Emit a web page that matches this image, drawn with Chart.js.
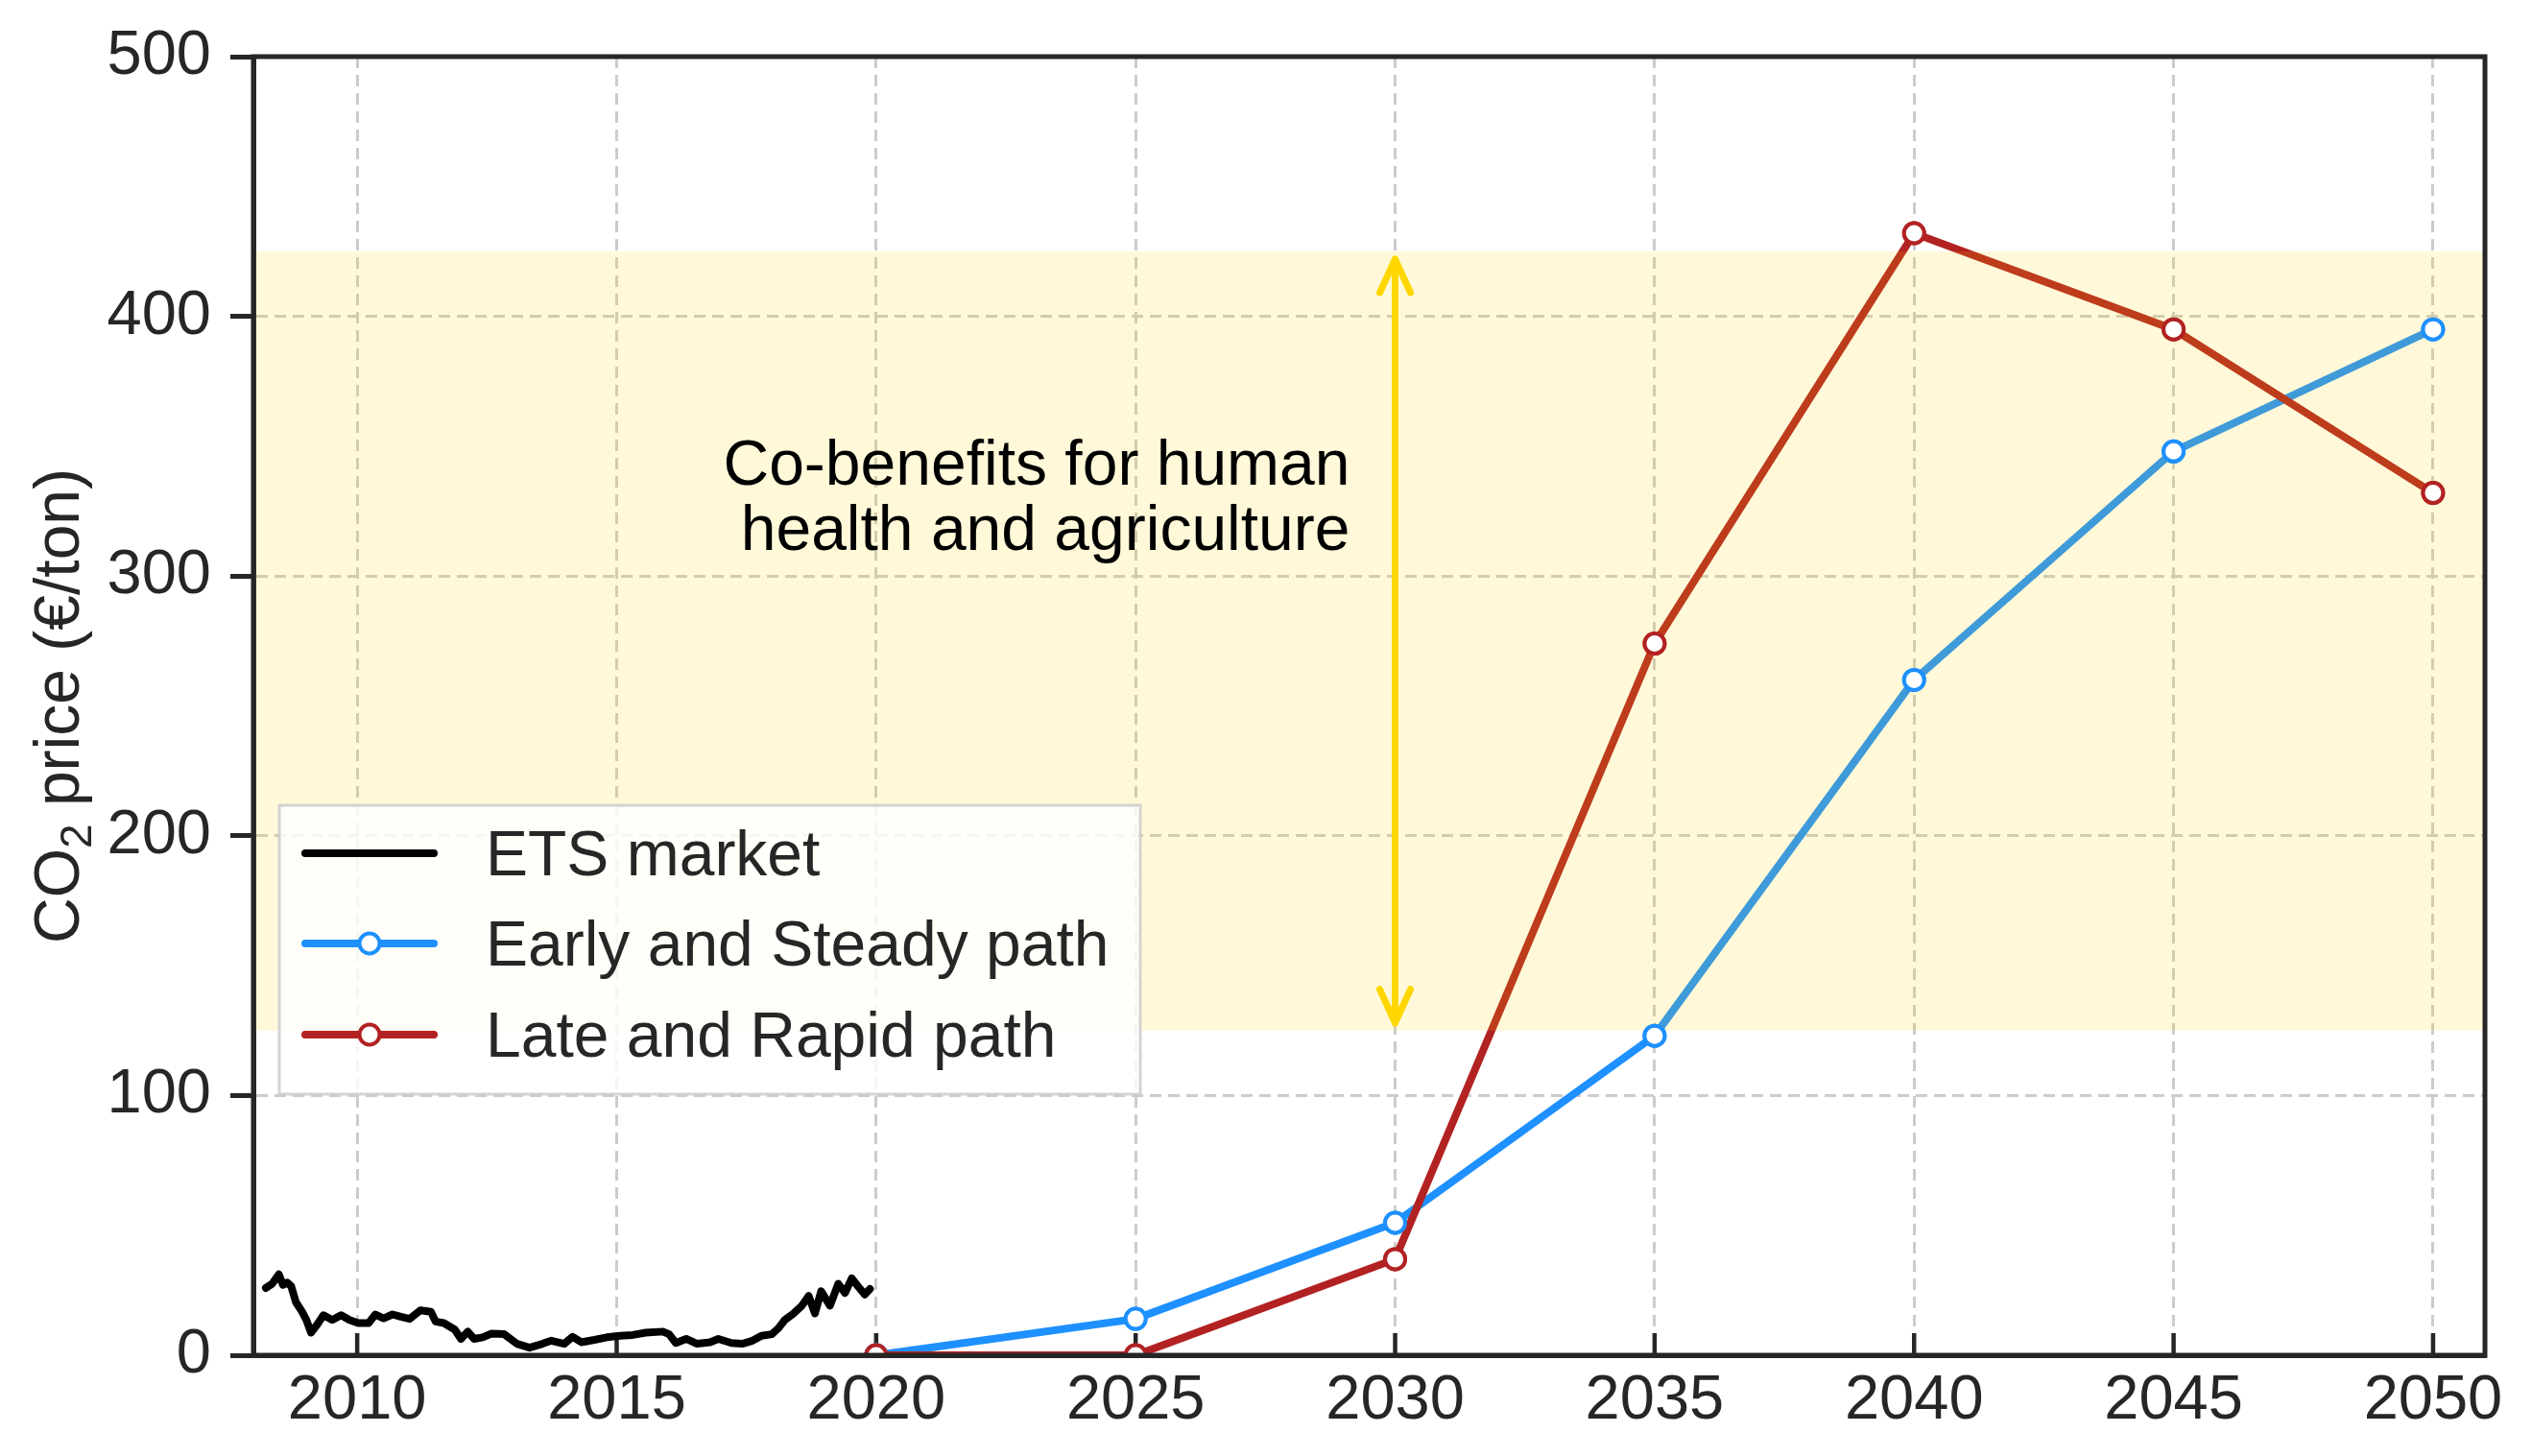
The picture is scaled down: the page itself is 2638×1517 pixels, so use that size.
<!DOCTYPE html>
<html><head><meta charset="utf-8">
<script src="https://cdn.jsdelivr.net/npm/chart.js@4/dist/chart.umd.min.js"></script>
<style>html,body{margin:0;padding:0;background:#fff;} canvas{display:block;}</style>
</head><body>
<canvas id="c" width="2638" height="1517"></canvas>
<script>
// ---------- data ----------
const pathYears = [2020, 2025, 2030, 2035, 2040, 2045, 2050];
const earlySteady = [0, 14, 51, 123, 260, 348, 395];
const lateRapid = [0, 0, 37, 274, 432, 395, 332];
const etsYears = [2008.24, 2008.36, 2008.49, 2008.57, 2008.65, 2008.73, 2008.82, 2008.94, 2009.02, 2009.11,
  2009.23, 2009.35, 2009.52, 2009.69, 2009.85, 2010.02, 2010.22, 2010.35, 2010.51, 2010.68,
  2010.84, 2011.01, 2011.22, 2011.42, 2011.51, 2011.67, 2011.88, 2012.0, 2012.13, 2012.25,
  2012.42, 2012.58, 2012.83, 2013.08, 2013.32, 2013.57, 2013.74, 2013.99, 2014.15, 2014.32,
  2014.57, 2014.81, 2015.06, 2015.31, 2015.56, 2015.89, 2016.01, 2016.14, 2016.34, 2016.55,
  2016.80, 2016.96, 2017.21, 2017.42, 2017.62, 2017.79, 2017.99, 2018.12, 2018.24, 2018.41,
  2018.57, 2018.70, 2018.82, 2018.94, 2019.11, 2019.27, 2019.40, 2019.53, 2019.65, 2019.78, 2019.88];
const etsPrices = [25.9, 27.5, 31.1, 27.1, 28.0, 26.5, 20.4, 16.7, 13.6, 8.7,
  11.8, 15.4, 13.6, 15.4, 13.6, 12.4, 12.4, 15.7, 14.2, 15.7,
  14.8, 14.0, 17.3, 16.7, 13.0, 12.4, 9.9, 6.3, 9.1, 6.3,
  6.9, 8.3, 8.1, 4.4, 2.9, 4.4, 5.6, 4.4, 7.1, 5.0,
  5.9, 6.9, 7.5, 7.8, 8.7, 9.1, 8.1, 4.7, 6.3, 4.4,
  5.0, 6.3, 4.7, 4.4, 5.6, 7.5, 8.1, 10.5, 13.6, 16.1,
  19.1, 22.8, 16.1, 24.6, 19.1, 27.5, 24.0, 29.6, 26.5, 23.4, 25.5];
const xTickLabels = [2010, 2015, 2020, 2025, 2030, 2035, 2040, 2045, 2050];
const yTickLabels = [0, 100, 200, 300, 400, 500];
const seriesNames = ['ETS market', 'Early and Steady path', 'Late and Rapid path'];
const coBenefitRange = [125, 425];
const annotationLines = ['Co-benefits for human', 'health and agriculture'];
const annotationYear = 2030;
const yTitleParts = ['CO', '2', ' price (€/ton)'];

// ---------- styles ----------
const FONT = "'Liberation Sans', Arial, Helvetica, sans-serif";
const INK = '#262626';
const BLUE = '#1E90FF';
const RED = '#B22222';
const GOLD = '#FFD700';
const GRID = '#cccccc';
const DASH = [12, 7];
const LW = 8;

const decor = {
  id: 'decor',
  beforeDatasetsDraw(chart) {
    const {ctx, chartArea: a, scales: {x}} = chart;
    ctx.save();
    ctx.strokeStyle = INK; ctx.lineWidth = 4.5;
    x.ticks.forEach(t => {
      const px = x.getPixelForValue(t.value);
      ctx.beginPath(); ctx.moveTo(px, a.bottom); ctx.lineTo(px, a.bottom - 23); ctx.stroke();
    });
    ctx.restore();
  },
  afterDatasetsDraw(chart) {
    const {ctx, chartArea: a, scales: {x, y}} = chart;
    const yTop = y.getPixelForValue(coBenefitRange[1]);
    const yBot = y.getPixelForValue(coBenefitRange[0]);
    ctx.save();
    ctx.fillStyle = 'rgba(255,215,0,0.15)';
    ctx.fillRect(a.left, yTop, a.right - a.left, yBot - yTop);
    ctx.restore();
    ctx.save();
    ctx.beginPath(); ctx.rect(a.left, a.top, a.right - a.left, a.bottom - a.top); ctx.clip();
    [1, 2].forEach(i => chart.getDatasetMeta(i).data.forEach(p => p.draw(ctx, a)));
    ctx.restore();
    const ax = x.getPixelForValue(annotationYear);
    const yA = yTop + 8, yB = yBot - 8;
    ctx.save();
    ctx.strokeStyle = GOLD; ctx.lineWidth = 7; ctx.lineCap = 'round'; ctx.lineJoin = 'round';
    ctx.beginPath(); ctx.moveTo(ax, yA); ctx.lineTo(ax, yB); ctx.stroke();
    ctx.beginPath(); ctx.moveTo(ax - 16, yA + 35); ctx.lineTo(ax, yA); ctx.lineTo(ax + 16, yA + 35); ctx.stroke();
    ctx.beginPath(); ctx.moveTo(ax - 16, yB - 35); ctx.lineTo(ax, yB); ctx.lineTo(ax + 16, yB - 35); ctx.stroke();
    ctx.restore();
    ctx.save();
    ctx.fillStyle = '#000';
    ctx.font = `66px ${FONT}`;
    ctx.textAlign = 'right'; ctx.textBaseline = 'alphabetic';
    const tx = x.getPixelForValue(2029.13);
    const ty = y.getPixelForValue(335.3);
    annotationLines.forEach((s, i) => ctx.fillText(s, tx, ty + i * 68));
    ctx.restore();
  },
  afterDraw(chart) {
    const {ctx, chartArea: a} = chart;
    ctx.save();
    ctx.strokeStyle = INK; ctx.lineWidth = 5;
    ctx.strokeRect(a.left, a.top, a.right - a.left, a.bottom - a.top);
    ctx.restore();
    // y title
    ctx.save();
    ctx.translate(82, (a.top + a.bottom) / 2);
    ctx.rotate(-Math.PI / 2);
    ctx.fillStyle = INK; ctx.textBaseline = 'alphabetic'; ctx.textAlign = 'left';
    const big = `66px ${FONT}`, small = `46px ${FONT}`;
    ctx.font = big; const w0 = ctx.measureText(yTitleParts[0]).width;
    const w2 = ctx.measureText(yTitleParts[2]).width;
    ctx.font = small; const w1 = ctx.measureText(yTitleParts[1]).width;
    let cx = -(w0 + w1 + w2) / 2;
    ctx.font = big; ctx.fillText(yTitleParts[0], cx, 0); cx += w0;
    ctx.font = small; ctx.fillText(yTitleParts[1], cx, 13); cx += w1;
    ctx.font = big; ctx.fillText(yTitleParts[2], cx, 0);
    ctx.restore();
    // legend
    const L = 291, T = 839, R = 1188, B = 1140;
    ctx.save();
    ctx.fillStyle = 'rgba(255,255,255,0.8)';
    ctx.fillRect(L, T, R - L, B - T);
    ctx.strokeStyle = 'rgba(204,204,204,0.85)'; ctx.lineWidth = 3;
    ctx.strokeRect(L, T, R - L, B - T);
    const colors = ['#000', BLUE, RED];
    const rows = [889, 983, 1078];
    ctx.font = `66px ${FONT}`; ctx.textBaseline = 'alphabetic'; ctx.textAlign = 'left';
    seriesNames.forEach((name, i) => {
      const cy = rows[i];
      ctx.strokeStyle = colors[i]; ctx.lineWidth = LW; ctx.lineCap = 'round';
      ctx.beginPath(); ctx.moveTo(318, cy); ctx.lineTo(452, cy); ctx.stroke();
      if (i > 0) {
        ctx.beginPath(); ctx.arc(385, cy, 10.5, 0, Math.PI * 2);
        ctx.fillStyle = '#fff'; ctx.fill();
        ctx.lineWidth = 4; ctx.stroke();
      }
      ctx.fillStyle = INK;
      ctx.fillText(name, 506, cy + 23);
    });
    ctx.restore();
  }
};

new Chart(document.getElementById('c'), {
  type: 'line',
  data: {
    datasets: [
      { label: seriesNames[0], data: etsYears.map((t, i) => ({x: t, y: etsPrices[i]})),
        borderColor: '#000', borderWidth: LW, pointRadius: 0, borderJoinStyle: 'round', borderCapStyle: 'round',
        tension: 0, order: 2, clip: 0 },
      { label: seriesNames[1], data: pathYears.map((t, i) => ({x: t, y: earlySteady[i]})),
        borderColor: BLUE, borderWidth: LW, pointRadius: 10.5, pointBorderWidth: 4,
        pointBackgroundColor: '#fff', pointBorderColor: BLUE, tension: 0, order: 1, clip: 0 },
      { label: seriesNames[2], data: pathYears.map((t, i) => ({x: t, y: lateRapid[i]})),
        borderColor: RED, borderWidth: LW, pointRadius: 10.5, pointBorderWidth: 4,
        pointBackgroundColor: '#fff', pointBorderColor: RED, tension: 0, order: 0, clip: 0 }
    ]
  },
  options: {
    responsive: false, animation: false, devicePixelRatio: 1, events: [],
    layout: { autoPadding: false, padding: { left: 0, right: 49, top: 53, bottom: 0 } },
    plugins: { legend: { display: false }, tooltip: { enabled: false } },
    scales: {
      x: {
        type: 'linear', min: 2008, max: 2051,
        afterBuildTicks: s => { s.ticks = xTickLabels.map(v => ({value: v})); },
        afterFit: s => { s.height = 105; },
        grid: { color: GRID, lineWidth: 3, drawTicks: false },
        border: { display: true, color: INK, width: 5, dash: DASH },
        ticks: { color: INK, font: { family: FONT, size: 65 }, padding: 9, maxRotation: 0, autoSkip: false,
                 callback: v => String(v) }
      },
      y: {
        type: 'linear', min: 0, max: 500,
        afterBuildTicks: s => { s.ticks = yTickLabels.map(v => ({value: v})); },
        afterFit: s => { s.width = 264; },
        grid: { color: GRID, lineWidth: 3, tickLength: 24, tickColor: INK, tickWidth: 5, tickBorderDash: [] },
        border: { display: true, color: INK, width: 5, dash: DASH },
        ticks: { color: INK, font: { family: FONT, size: 65 }, padding: 20, callback: v => String(v) }
      }
    }
  },
  plugins: [decor]
});
</script>
</body></html>
